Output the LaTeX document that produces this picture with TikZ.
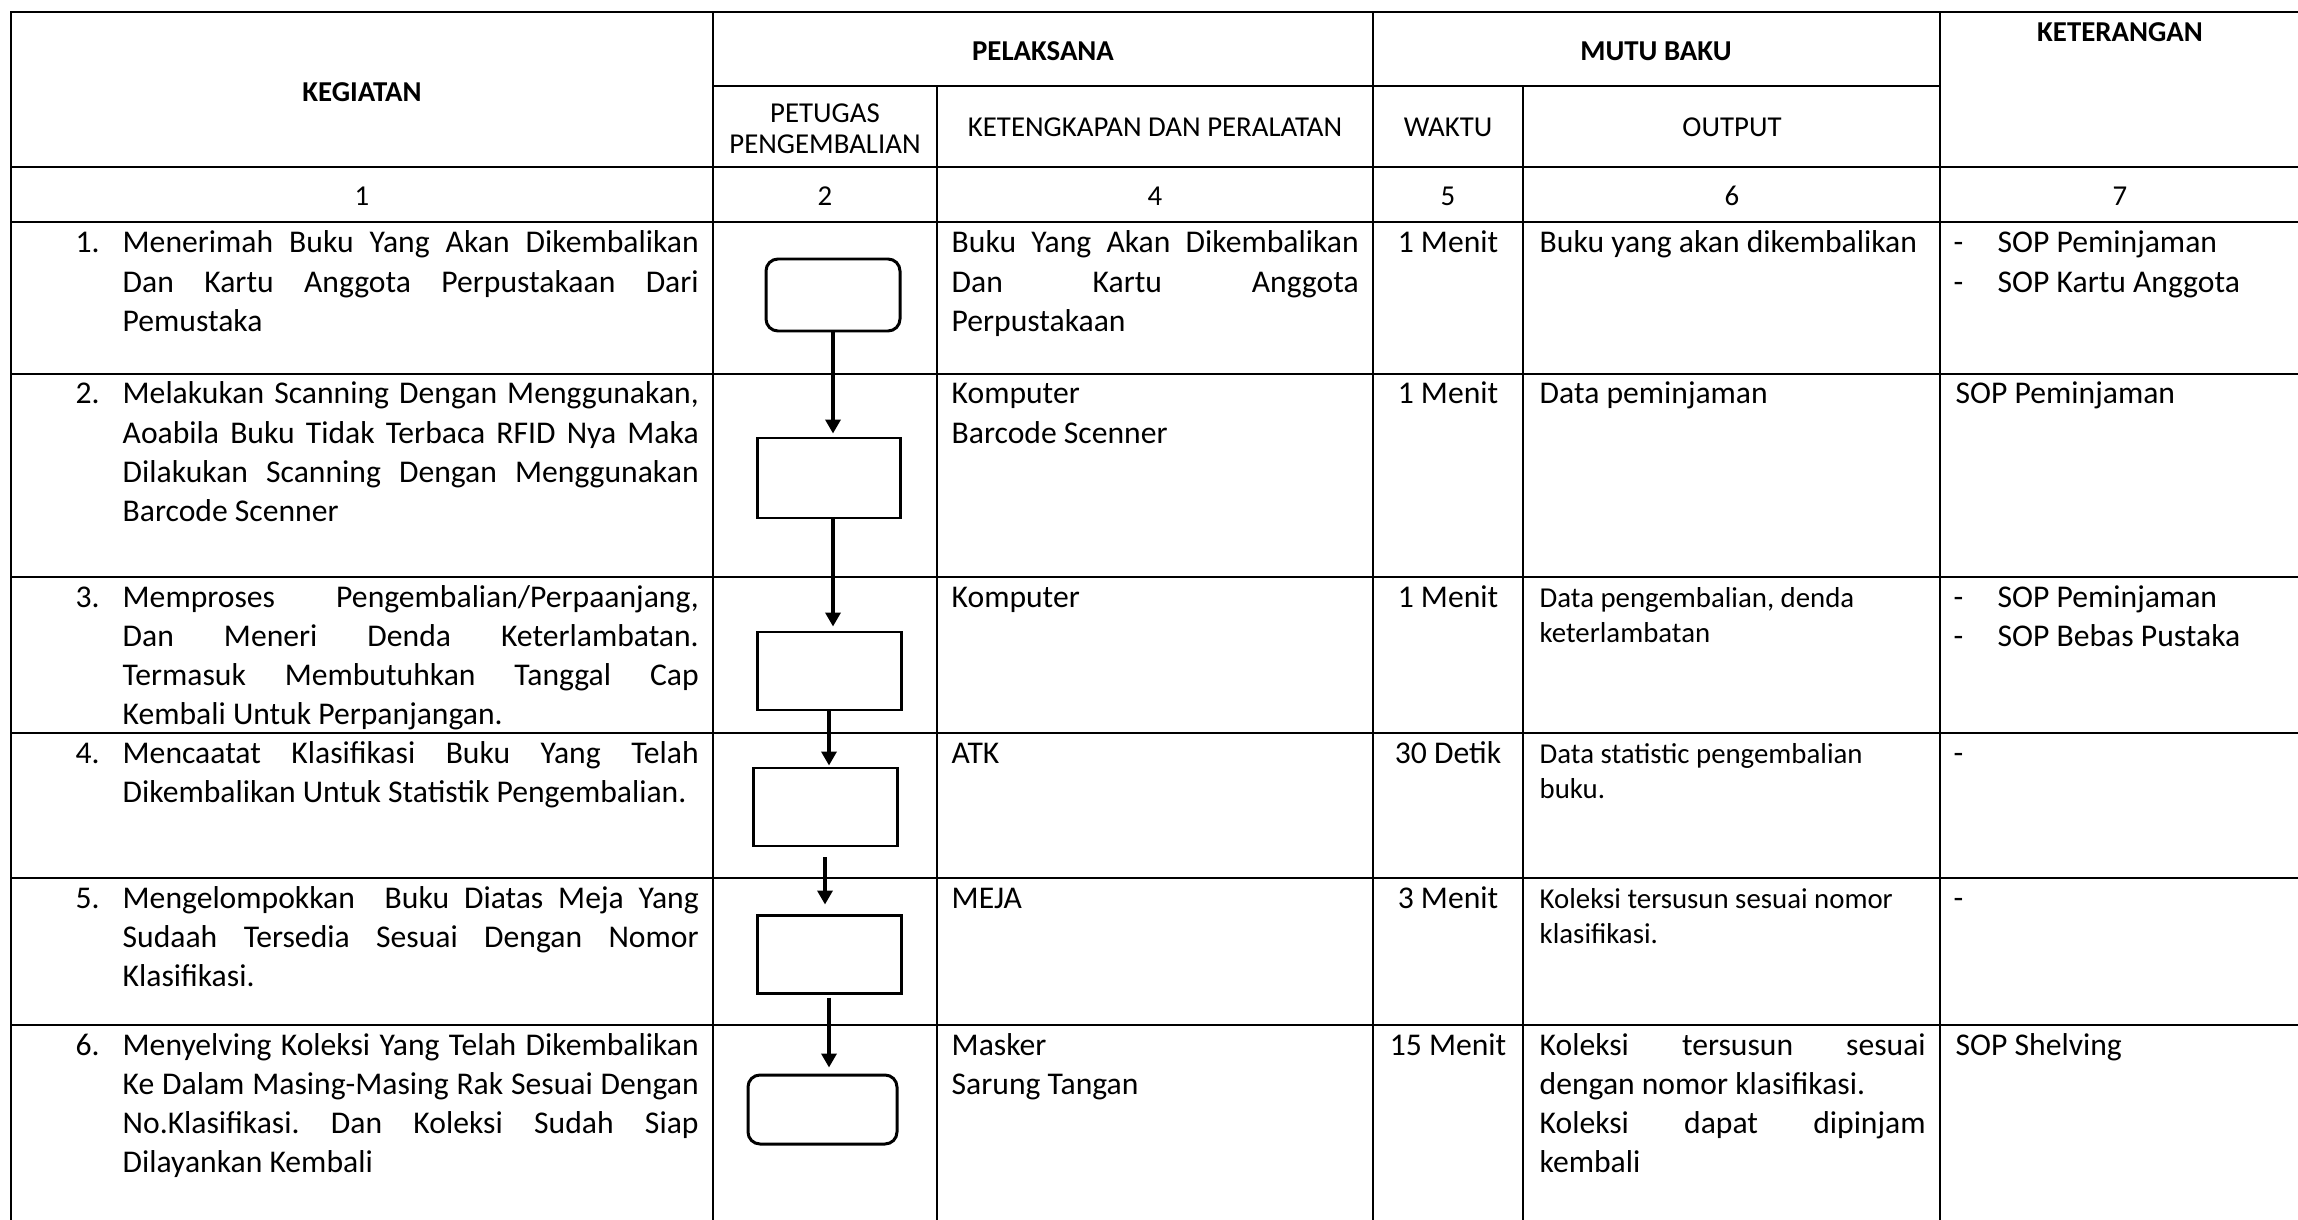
\documentclass[tikz,border=0pt]{standalone}
\usepackage{fontspec}
\setmainfont{Carlito}
\usetikzlibrary{arrows.meta}

\newcommand{\corps}{\fontsize{9pt}{11.1pt}\selectfont\frenchspacing}
\newcommand{\petit}{\fontsize{8.2pt}{10pt}\selectfont\frenchspacing}
\newcommand{\entete}{\fontsize{8.2pt}{8.8pt}\selectfont\frenchspacing}
\newcommand{\tiret}{\makebox[4.4mm][l]{-}}

\tolerance=10000
\pretolerance=-1
\hbadness=10000
\hyphenpenalty=10000
\exhyphenpenalty=10000

\begin{document}
\begin{tikzpicture}[x=0.1mm, y=-0.1mm,
  grille/.style = {line width=0.75pt, line cap=rect},
  boite/.style = {draw, line width=0.85pt, inner sep=0pt, minimum width=14.4mm, minimum height=7.8mm},
  terminal/.style = {boite, rounded corners=1.2mm},
  fleche/.style = {-{Triangle[length=1.4mm, width=1.5mm]}, line width=1.05pt},
  titre/.style = {anchor=base, inner sep=0pt, font=\entete\bfseries},
  soustitre/.style = {anchor=base, inner sep=0pt, font=\entete},
  num/.style = {anchor=base west, inner sep=0pt, font=\corps},
  waktu/.style = {anchor=base, inner sep=0pt, font=\corps},
  texte/.style = {anchor=base west, inner sep=0pt, font=\corps, align=justify, text width=#1},
  sortie/.style = {anchor=base west, inner sep=0pt, font=\petit, align=justify, text width=38.6mm}]

  \useasboundingbox (0,0) rectangle (2298,1220);
  \fill[white] (0,0) rectangle (2298,1220);

  % Grille
  \draw[grille] (11,12) -- (2298,12);
  \draw[grille] (713,86) -- (1940,86);
  \foreach \y in {167,222,374,577,733,878,1025}
    \draw[grille] (11,\y) -- (2298,\y);
  \foreach \x in {11,713,1373,1940}
    \draw[grille] (\x,12) -- (\x,1220);
  \foreach \x in {937,1523}
    \draw[grille] (\x,86) -- (\x,1220);

  % En-tetes
  \node[titre] (keg) at (362,102) {KEGIATAN};
  \node[titre] (pel) at (1043,61) {PELAKSANA};
  \node[titre] (mutu) at (1656,61) {MUTU BAKU};
  \node[titre] (ket) at (2120,42) {KETERANGAN};
  \node[soustitre, text width=22mm, align=center] (petugas) at (825,123) {PETUGAS\\PENGEMBALIAN};
  \node[soustitre] (alat) at (1155,137) {KETENGKAPAN DAN PERALATAN};
  \node[soustitre] (wkt) at (1448,137) {WAKTU};
  \node[soustitre] (out) at (1732,137) {OUTPUT};

  % Numeros de colonnes
  \node[soustitre] (c1) at (362,206) {1};
  \node[soustitre] (c2) at (825,206) {2};
  \node[soustitre] (c4) at (1155,206) {4};
  \node[soustitre] (c5) at (1448,206) {5};
  \node[soustitre] (c6) at (1732,206) {6};
  \node[soustitre] (c7) at (2120,206) {7};

  % Kegiatan
  \node[num] (n1) at (75,253) {1.};
  \node[texte=57.6mm] (k1) at (122,253) {Menerimah Buku Yang Akan Dikembalikan\linebreak Dan Kartu Anggota Perpustakaan Dari\linebreak Pemustaka};
  \node[num] (n2) at (75,404) {2.};
  \node[texte=57.6mm] (k2) at (122,404) {Melakukan Scanning Dengan Menggunakan,\linebreak Aoabila Buku Tidak Terbaca RFID Nya Maka\linebreak Dilakukan Scanning Dengan Menggunakan\linebreak Barcode Scenner};
  \node[num] (n3) at (75,607) {3.};
  \node[texte=57.6mm] (k3) at (122,607) {Memproses Pengembalian/Perpaanjang,\linebreak Dan Meneri Denda Keterlambatan.\linebreak Termasuk Membutuhkan Tanggal Cap\linebreak Kembali Untuk Perpanjangan.};
  \node[num] (n4) at (75,763) {4.};
  \node[texte=57.6mm] (k4) at (122,763) {Mencaatat Klasifikasi Buku Yang Telah\linebreak Dikembalikan Untuk Statistik Pengembalian.};
  \node[num] (n5) at (75,908) {5.};
  \node[texte=57.6mm] (k5) at (122,908) {Mengelompokkan\ \ Buku Diatas Meja Yang\linebreak Sudaah Tersedia Sesuai Dengan Nomor\linebreak Klasifikasi.};
  \node[num] (n6) at (75,1055) {6.};
  \node[texte=57.6mm] (k6) at (122,1055) {Menyelving Koleksi Yang Telah Dikembalikan\linebreak Ke Dalam Masing-Masing Rak Sesuai Dengan\linebreak No.Klasifikasi. Dan Koleksi Sudah Siap\linebreak Dilayankan Kembali};

  % Ketengkapan dan peralatan
  \node[texte=40.7mm] (a1) at (951,253) {Buku Yang Akan Dikembalikan\linebreak Dan Kartu Anggota\linebreak Perpustakaan};
  \node[texte=40.7mm] (a2) at (951,404) {Komputer\\Barcode Scenner};
  \node[texte=40.7mm] (a3) at (951,607) {Komputer};
  \node[texte=40.7mm] (a4) at (951,763) {ATK};
  \node[texte=40.7mm] (a5) at (951,908) {MEJA};
  \node[texte=40.7mm] (a6) at (951,1055) {Masker\\Sarung Tangan};

  % Waktu
  \node[waktu] (w1) at (1448,253) {1 Menit};
  \node[waktu] (w2) at (1448,404) {1 Menit};
  \node[waktu] (w3) at (1448,607) {1 Menit};
  \node[waktu] (w4) at (1448,763) {30 Detik};
  \node[waktu] (w5) at (1448,908) {3 Menit};
  \node[waktu] (w6) at (1448,1055) {15 Menit};

  % Output
  \node[texte=38.6mm] (o1) at (1539,253) {Buku yang akan dikembalikan};
  \node[texte=38.6mm] (o2) at (1539,404) {Data peminjaman};
  \node[sortie] (o3) at (1539,607) {Data pengembalian, denda\\keterlambatan};
  \node[sortie] (o4) at (1539,763) {Data statistic pengembalian\\buku.};
  \node[sortie] (o5) at (1539,908) {Koleksi tersusun sesuai nomor\\klasifikasi.};
  \node[texte=38.6mm] (o6) at (1539,1055) {Koleksi tersusun sesuai\linebreak dengan nomor klasifikasi.\par Koleksi dapat dipinjam\linebreak kembali};

  % Keterangan
  \node[texte=34mm] (r1) at (1953,253) {\tiret SOP Peminjaman\\\tiret SOP Kartu Anggota};
  \node[texte=34mm] (r2) at (1955,404) {SOP Peminjaman};
  \node[texte=34mm] (r3) at (1953,607) {\tiret SOP Peminjaman\\\tiret SOP Bebas Pustaka};
  \node[texte=34mm] (r4) at (1953,763) {-};
  \node[texte=34mm] (r5) at (1953,908) {-};
  \node[texte=34mm] (r6) at (1955,1055) {SOP Shelving};

  % Diagramme
  \node[terminal, minimum width=13.4mm, minimum height=7.2mm] (b1) at (833,295) {};
  \node[boite, minimum width=14.3mm, minimum height=8mm] (b2) at (828.5,478) {};
  \node[boite] (b3) at (829,671) {};
  \node[boite] (b4) at (825,807) {};
  \node[boite] (b5) at (829,954) {};
  \node[terminal, minimum width=14.9mm, minimum height=6.9mm] (b6) at (822.5,1109.5) {};

  % Fleches
  \draw[fleche, shorten >=0.3mm] (b1.south) -- (b1.south |- b2.north);
  \draw[fleche, shorten >=0.4mm] (b1.south |- b2.south) -- (b1.south |- b3.north);
  \draw[fleche, shorten >=0.1mm] (b3.south) -- (b3.south |- b4.north);
  \draw[fleche, shorten <=1mm, shorten >=0.9mm] (b4.south) -- (b4.south |- b5.north);
  \draw[fleche, shorten <=0.3mm, shorten >=0.6mm] (b5.south) -- (b5.south |- b6.north);
\end{tikzpicture}
\end{document}
